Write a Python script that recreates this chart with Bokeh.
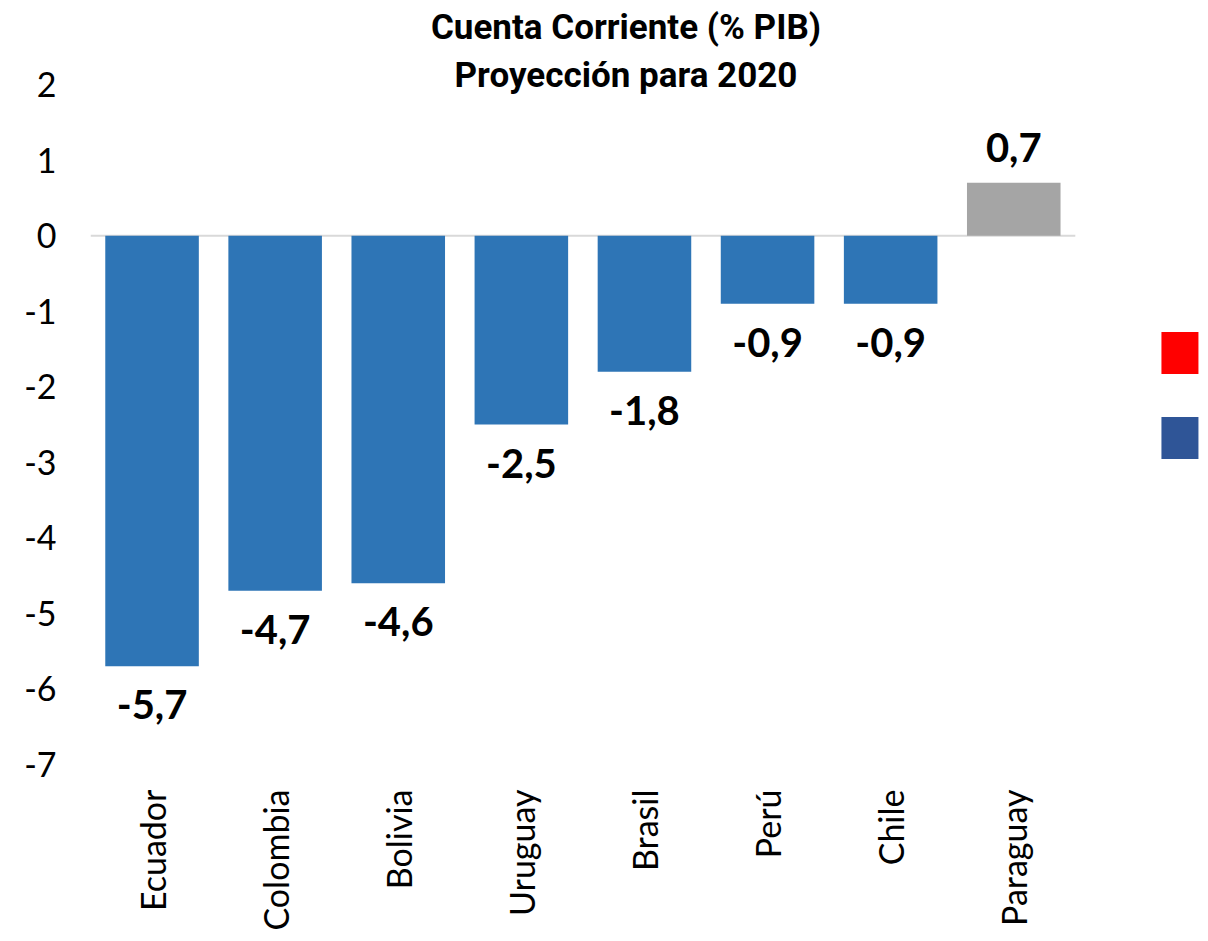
from bokeh.plotting import figure
from bokeh.models import FixedTicker, Range1d
from bokeh.core.properties import value
from bokeh.embed import file_html
from bokeh.resources import INLINE

countries = ["Ecuador", "Colombia", "Bolivia", "Uruguay", "Brasil", "Perú", "Chile", "Paraguay"]
values = [-5.7, -4.7, -4.6, -2.5, -1.8, -0.9, -0.9, 0.7]
colors = ["#2E75B6"] * 7 + ["#A5A5A5"]
y_ticks = [2, 1, 0, -1, -2, -3, -4, -5, -6, -7]
title_lines = ["Cuenta Corriente (% PIB)", "Proyección para 2020"]
legend_colors = ["#FF0000", "#2F5597"]

FONT = "Lato"
TITLE_FONT = "Roboto"

xs = list(range(len(countries)))

p = figure(width=1200, height=933, output_backend="svg", toolbar_location=None,
           x_range=Range1d(-0.5, 8.517), y_range=Range1d(-7.079, 3.006),
           min_border_left=90, min_border_right=0, min_border_top=8, min_border_bottom=160)
p.outline_line_color = None
p.xgrid.grid_line_color = None
p.ygrid.grid_line_color = None
p.background_fill_color = "white"
p.border_fill_color = "white"

# zero line
p.segment(x0=[-0.5], x1=[len(countries) - 0.5], y0=[0], y1=[0], line_color="#D9D9D9", line_width=2)

p.vbar(x=xs, top=values, bottom=0, width=0.76, fill_color=colors, line_color=None)

lab_y = [v - 0.51 if v < 0 else v + 0.47 for v in values]
lab_t = [f"{v:.1f}".replace(".", ",") for v in values]
p.text(x=xs, y=lab_y, text=lab_t, text_align="center", text_baseline="middle",
       text_font=value(FONT), text_font_style="bold", text_font_size="40px", text_color="black")

# title
p.text(x=[3.85, 3.85], y=[2.76, 2.12], text=title_lines, text_align="center", text_baseline="middle",
       text_font=value(TITLE_FONT), text_font_style="bold", text_font_size="35px", text_color="black")

# legend squares (no labels)
p.rect(x=[8.35, 8.35], y=[-1.555, -2.68], width=37, height=42, width_units="screen",
       height_units="screen", fill_color=legend_colors, line_color=None)

p.yaxis.ticker = FixedTicker(ticks=y_ticks)
p.yaxis.major_label_overrides = {t: str(t) for t in y_ticks}
p.yaxis.axis_line_color = None
p.yaxis.major_tick_line_color = None
p.yaxis.minor_tick_line_color = None
p.yaxis.major_label_standoff = 28
p.yaxis.major_label_text_font = FONT
p.yaxis.major_label_text_font_size = "34px"
p.yaxis.major_label_text_color = "black"

p.xaxis.ticker = FixedTicker(ticks=xs)
p.xaxis.major_label_overrides = {i: c for i, c in zip(xs, countries)}
p.xaxis.major_label_orientation = 1.5707963
p.xaxis.axis_line_color = None
p.xaxis.major_tick_line_color = None
p.xaxis.minor_tick_line_color = None
p.xaxis.major_label_standoff = 13
p.xaxis.major_label_text_font = FONT
p.xaxis.major_label_text_font_size = "34px"
p.xaxis.major_label_text_color = "black"

open("out.html", "w").write(file_html(p, INLINE))
